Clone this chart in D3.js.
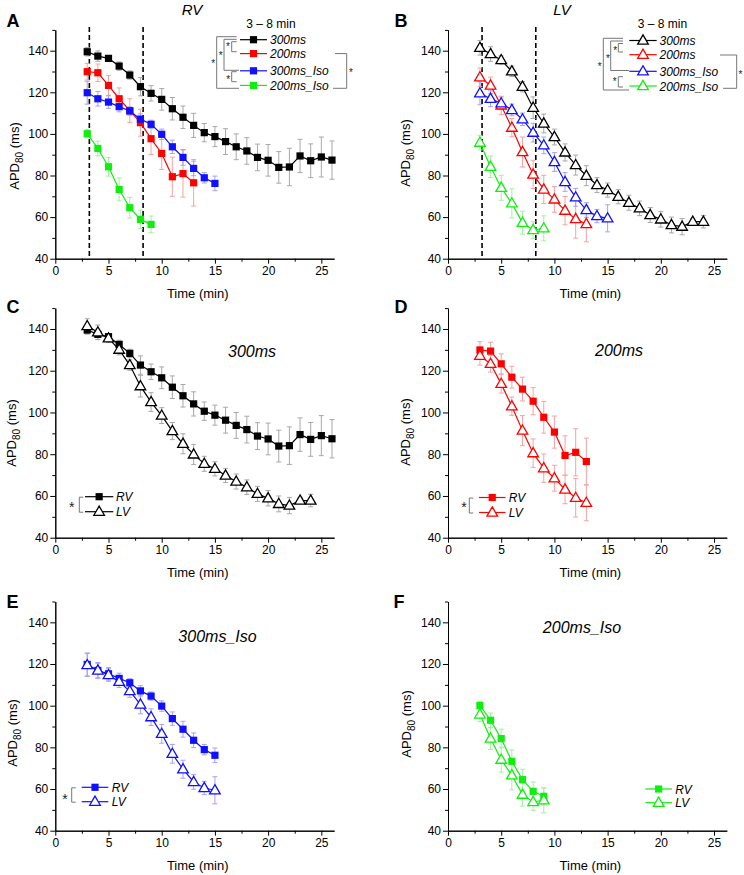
<!DOCTYPE html>
<html><head><meta charset="utf-8">
<script src="https://cdn.jsdelivr.net/npm/d3@7"></script>
<style>
body{margin:0;background:#fff}
svg{display:block}
text{font-family:"Liberation Sans",Arial,Helvetica,sans-serif}
</style>
</head><body>
<svg id="chart" width="744" height="875"></svg>
<script>
// ---------------- DATA ----------------
const xTicks = [0, 5, 10, 15, 20, 25];
const yTicks = [40, 60, 80, 100, 120, 140];
const xMinorTicks = [2.5, 7.5, 12.5, 17.5, 22.5];
const yMinorTicks = [50, 70, 90, 110, 130, 150];
const dashedTimes = [3.2, 8.25];

const time300RV = [3,4,5,6,7,8,9,10,11,12,13,14,15,16,17,18,19,20,21,22,23,24,25,26];
const rv300 = [139.5,137.4,136.3,132.6,128.3,122.7,119.5,116.6,112.1,108.0,104.1,100.6,98.7,96.3,93.8,91.8,88.7,87.3,83.9,84.1,89.4,87.1,88.9,87.4];
const rv300Err = [2,2.5,1.5,2,2,4.4,3.7,5.2,5.4,5.4,5.8,4.4,4.8,6.2,6.2,6.4,6.4,7.6,7.6,9,8,8.1,9.6,9.2];

const time300LV = [3,4,5,6,7,8,9,10,11,12,13,14,15,16,17,18,19,20,21,22,23,24];
const lv300 = [141.4,138.4,135.5,130.1,122.7,112.6,105.0,98.5,91.1,85.0,79.9,75.4,73.0,69.8,66.9,64.2,61.0,58.9,56.2,55.4,57.8,57.8];
const lv300Err = [3.5,3.5,2,2.5,2.5,5.2,4.5,3.8,4.1,4.8,4.8,3.6,3.4,3.4,3.6,3.5,3.6,3.7,3.8,3.9,1.5,3];

const time200 = [3,4,5,6,7,8,9,10,11,12,13];
const rv200 = [129.9,129.4,123.3,116.9,111.2,105.4,97.7,90.6,79.4,80.9,76.5];
const rv200Err = [4,4.2,4.8,5.2,5.7,6.5,7.6,7.7,9.4,11.3,11.2];
const lv200 = [127.2,123.3,113.7,103.0,91.3,80.5,73.3,68.5,63.1,59.1,56.7];
const lv200Err = [4.5,4,4.4,4.4,7.2,6.8,6.8,6.2,6.8,9.2,8.6];

const time300Iso = [3,4,5,6,7,8,9,10,11,12,13,14,15];
const rv300Iso = [119.8,116.9,115.3,113.1,111.0,107.1,104.6,99.8,93.8,88.7,83.4,78.9,76.2];
const rv300IsoErr = [5.5,3.5,3,2.5,2,2.5,2,2.5,3.2,3.8,3.5,2.5,3.5];
const lv300Iso = [119.5,116.9,114.7,111.5,107.0,100.6,94.5,86.5,76.9,69.5,63.4,60.5,59.4];
const lv300IsoErr = [5.5,3.8,3,2.8,3,4.5,4,4.5,4.5,4.3,3.5,3.2,6.5];

const time200Iso = [3,4,5,6,7,8,9];
const rv200Iso = [100.1,93.0,84.2,73.3,64.5,58.9,56.5];
const rv200IsoErr = [2,3.5,4.5,5.5,5,4.5,4];
const lv200Iso = [95.8,84.2,74.1,66.6,57.3,53.8,54.6];
const lv200IsoErr = [3.5,5.2,6,7,5.5,4,6];

const protocolNames = ["300ms", "200ms", "300ms_Iso", "200ms_Iso"];
const chamberNames = ["RV", "LV"];
const panelLetters = ["A", "B", "C", "D", "E", "F"];

// ---------------- STYLE ----------------
const colors = {"300ms":"#000000","200ms":"#ff0000","300ms_Iso":"#1010ff","200ms_Iso":"#10ee10"};
const lightColors = {"300ms":"#a8a8a8","200ms":"#f5a3a3","300ms_Iso":"#a3a3f5","200ms_Iso":"#a3f0a3"};

function series(protocol, chamber, t, v, e) {
  return {protocol, chamber, points: t.map((d,i)=>({t:d, v:v[i], e:e[i]}))};
}
const S = {
  rv300: series("300ms","RV",time300RV,rv300,rv300Err),
  lv300: series("300ms","LV",time300LV,lv300,lv300Err),
  rv200: series("200ms","RV",time200,rv200,rv200Err),
  lv200: series("200ms","LV",time200,lv200,lv200Err),
  rv300Iso: series("300ms_Iso","RV",time300Iso,rv300Iso,rv300IsoErr),
  lv300Iso: series("300ms_Iso","LV",time300Iso,lv300Iso,lv300IsoErr),
  rv200Iso: series("200ms_Iso","RV",time200Iso,rv200Iso,rv200IsoErr),
  lv200Iso: series("200ms_Iso","LV",time200Iso,lv200Iso,lv200IsoErr)
};

const svg = d3.select("#chart");
const FONT = '"Liberation Sans",Arial,Helvetica,sans-serif';

function marker(g, shape, cx, cy, color) {
  if (shape === "RV") {
    g.append("rect").attr("x", cx-3.6).attr("y", cy-3.6).attr("width", 7.2).attr("height", 7.2)
      .attr("fill", color);
  } else {
    g.append("path").attr("d", `M${cx},${cy-5.6}L${cx+5.3},${cy+3.6}L${cx-5.3},${cy+3.6}Z`)
      .attr("fill", "#fff").attr("stroke", color).attr("stroke-width", 1.3).attr("stroke-linejoin","miter");
  }
}

function drawPanel(p) {
  const x = d3.scaleLinear().domain([0, 26.2]).range([p.x0, p.x1]);
  const y = d3.scaleLinear().domain([40, 150]).range([p.y0, p.y1]);
  const g = svg.append("g");

  // axes
  const styleAxis = sel => {
    sel.select(".domain").attr("stroke", "#000").attr("stroke-width", 1);
    sel.selectAll(".tick line").attr("stroke", "#000").attr("stroke-width", 1);
    sel.selectAll("text").attr("font-family", FONT).attr("font-size", 12).attr("fill", "#000");
  };
  g.append("g").attr("transform", `translate(0,${p.y0})`)
    .call(d3.axisBottom(x).tickValues(xMinorTicks).tickSize(3).tickSizeOuter(0).tickFormat(""))
    .call(styleAxis);
  g.append("g").attr("transform", `translate(0,${p.y0})`)
    .call(d3.axisBottom(x).tickValues(xTicks).tickSize(5).tickSizeOuter(0).tickPadding(3).tickFormat(d3.format("d")))
    .call(styleAxis)
    .call(s => s.selectAll("text").attr("dy", "0.71em"));
  g.append("g").attr("transform", `translate(${p.x0},0)`)
    .call(d3.axisLeft(y).tickValues(yMinorTicks).tickSize(3).tickSizeOuter(0).tickFormat(""))
    .call(styleAxis);
  g.append("g").attr("transform", `translate(${p.x0},0)`)
    .call(d3.axisLeft(y).tickValues(yTicks).tickSize(5).tickSizeOuter(0).tickPadding(2).tickFormat(d3.format("d")))
    .call(styleAxis);

  // axis titles
  g.append("text").attr("x", (p.x0+p.x1)/2 + 3).attr("y", p.y0 + 39)
    .attr("text-anchor", "middle").attr("font-size", 13).text("Time (min)");
  const yl = g.append("text").attr("transform", `translate(${p.ylx},${p.yly}) rotate(-90)`)
    .attr("text-anchor", "middle").attr("font-size", 13);
  yl.append("tspan").text("APD");
  yl.append("tspan").attr("font-size", 10).attr("dy", 4).text("80");
  yl.append("tspan").attr("dy", -4).text(" (ms)");

  // panel letter and title
  g.append("text").attr("x", p.letterX).attr("y", p.letterY).attr("font-size", 18)
    .attr("font-weight", "bold").text(p.letter);
  g.append("text").attr("x", p.titleX).attr("y", p.titleY).attr("text-anchor", "middle")
    .attr("font-size", p.titleSize).attr("font-style", "italic").text(p.title);

  // dashed lines
  if (p.dashed) {
    dashedTimes.forEach(t => {
      g.append("line").attr("x1", x(t)).attr("x2", x(t)).attr("y1", p.y1 - 3).attr("y2", p.y0)
        .attr("stroke", "#000").attr("stroke-width", 1.6).attr("stroke-dasharray", "5,3");
    });
  }

  // series
  const line = d3.line().x(d => x(d.t)).y(d => y(d.v));
  p.series.forEach(s => {
    const col = colors[s.protocol], lc = lightColors[s.protocol];
    const eg = g.append("g");
    s.points.forEach(d => {
      eg.append("line").attr("x1", x(d.t)).attr("x2", x(d.t)).attr("y1", y(d.v - d.e)).attr("y2", y(d.v + d.e))
        .attr("stroke", lc).attr("stroke-width", 1);
      [d.v - d.e, d.v + d.e].forEach(v => eg.append("line").attr("x1", x(d.t)-2.5).attr("x2", x(d.t)+2.5)
        .attr("y1", y(v)).attr("y2", y(v)).attr("stroke", lc).attr("stroke-width", 1));
    });
  });
  p.series.forEach(s => {
    const col = colors[s.protocol];
    g.append("path").datum(s.points).attr("d", line).attr("fill", "none")
      .attr("stroke", col).attr("stroke-width", 1.2);
    const mg = g.append("g");
    s.points.forEach(d => marker(mg, s.chamber, x(d.t), y(d.v), col));
  });

  // legend
  if (p.legend) p.legend(g);
}

function star(g, cx, cy, size) {
  g.append("text").attr("x", cx).attr("y", cy + size*0.52).attr("text-anchor", "middle")
    .attr("font-size", size).attr("fill", "#222").text("*");
}
function bracket(g, d) {
  g.append("path").attr("d", d).attr("fill", "none").attr("stroke", "#777").attr("stroke-width", 1);
}

function legendTop(g, rows, lx0, lx1, tx, headerX, chamber, brackets, stars) {
  g.append("text").attr("x", headerX).attr("y", 27.5).attr("text-anchor", "middle").attr("font-size", 12)
    .text("3 \u2013 8 min");
  brackets.forEach(d => bracket(g, d));
  stars.forEach(s => star(g, s[0], s[1], 10));
  protocolNames.forEach((name, i) => {
    const yy = rows[i];
    g.append("line").attr("x1", lx0).attr("x2", lx1).attr("y1", yy).attr("y2", yy)
      .attr("stroke", colors[name]).attr("stroke-width", 1.2);
    marker(g, chamber, (lx0+lx1)/2, yy, colors[name]);
    g.append("text").attr("x", tx).attr("y", yy + 4.5).attr("font-size", 12).attr("font-style", "italic").text(name);
  });
}

function legendPair(g, protocol, rows, lx0, lx1, tx, br, st) {
  if (br) bracket(g, `M${br[0]+4},${rows[0]+0.5}H${br[0]}V${rows[1]+0.5}H${br[0]+4}`);
  if (st) star(g, st[0], st[1], 14);
  chamberNames.forEach((ch, i) => {
    const yy = rows[i];
    g.append("line").attr("x1", lx0).attr("x2", lx1).attr("y1", yy).attr("y2", yy)
      .attr("stroke", colors[protocol]).attr("stroke-width", 1.2);
    marker(g, ch, (lx0+lx1)/2, yy, colors[protocol]);
    g.append("text").attr("x", tx).attr("y", yy + 4.5).attr("font-size", 12).attr("font-style", "italic").text(ch);
  });
}

const L = {x0: 55.3, x1: 334.1}, R = {x0: 448, x1: 726.8};

drawPanel({letter: panelLetters[0], letterX: 6.5, letterY: 26.5, title: chamberNames[0], titleX: 192, titleY: 15, titleSize: 15,
  x0: L.x0, x1: L.x1, y0: 258.7, y1: 29.9, ylx: 18.5, yly: 156, dashed: true,
  series: [S.rv300, S.rv200, S.rv300Iso, S.rv200Iso],
  legend: g => legendTop(g, [39.7, 53.6, 70.8, 85.4], 240, 267, 270, 271, "RV",
    ["M236.7,36.7H216.7V88.3H239", "M236.7,39.3H224V70.3H239", "M236.7,41.7H231.7V51.7H236.7",
     "M236.7,71.7H231.7V81.7H236.7", "M335,53.6H346.7V88.3H333"],
    [[213.3,61.7],[220.7,53.3],[228,45],[228.3,77.5],[351,70.5]])
});
drawPanel({letter: panelLetters[1], letterX: 394.5, letterY: 26.5, title: chamberNames[1], titleX: 562, titleY: 15, titleSize: 15,
  x0: R.x0, x1: R.x1, y0: 258.7, y1: 29.9, ylx: 410, yly: 153, dashed: true,
  series: [S.lv300, S.lv200, S.lv300Iso, S.lv200Iso],
  legend: g => legendTop(g, [40.5, 54.7, 71.3, 86], 629.3, 656.7, 659.5, 662.5, "LV",
    ["M623,38.3H603.3V90H629", "M623,41H610.7V70.5H629", "M623,43.5H618.3V52H623",
     "M623,76.7H618.3V87H623", "M720,55H736.7V88.3H723"],
    [[599.7,65],[608,56.7],[615.3,49],[614.7,80],[740.5,73]])
});
drawPanel({letter: panelLetters[2], letterX: 6.5, letterY: 313, title: protocolNames[0], titleX: 252, titleY: 357, titleSize: 16,
  x0: L.x0, x1: L.x1, y0: 537.7, y1: 308.1, ylx: 16, yly: 433, dashed: false,
  series: [S.rv300, S.lv300],
  legend: g => legendPair(g, "300ms", [496.7, 511.7], 85, 113.3, 116, [79.3], [71.7, 505])
});
drawPanel({letter: panelLetters[3], letterX: 394.5, letterY: 313, title: protocolNames[1], titleX: 619, titleY: 356, titleSize: 16,
  x0: R.x0, x1: R.x1, y0: 537.7, y1: 308.1, ylx: 410, yly: 432, dashed: false,
  series: [S.rv200, S.lv200],
  legend: g => legendPair(g, "200ms", [497.5, 512.5], 479, 505.5, 508.7, [469.3], [464, 505])
});
drawPanel({letter: panelLetters[4], letterX: 6.5, letterY: 608, title: protocolNames[2], titleX: 217.5, titleY: 642, titleSize: 16,
  x0: L.x0, x1: L.x1, y0: 830.7, y1: 601.5, ylx: 17, yly: 733, dashed: false,
  series: [S.rv300Iso, S.lv300Iso],
  legend: g => legendPair(g, "300ms_Iso", [787.3, 801.7], 81.7, 108.3, 111.7, [71.7], [65, 796.5])
});
drawPanel({letter: panelLetters[5], letterX: 393.5, letterY: 608, title: protocolNames[3], titleX: 582, titleY: 633, titleSize: 16,
  x0: R.x0, x1: R.x1, y0: 830.7, y1: 601.5, ylx: 410.5, yly: 724, dashed: false,
  series: [S.rv200Iso, S.lv200Iso],
  legend: g => legendPair(g, "200ms_Iso", [789, 802.7], 645.3, 672, 675.3, null, null)
});
</script>
</body></html>
